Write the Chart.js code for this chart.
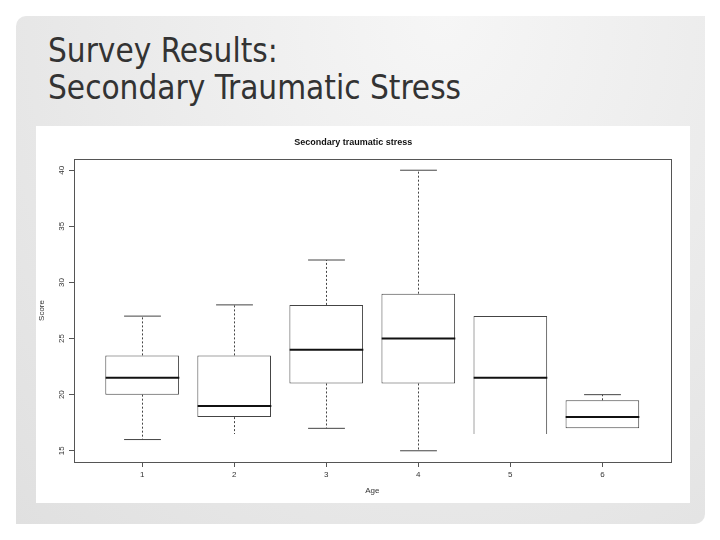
<!DOCTYPE html>
<html>
<head>
<meta charset="utf-8">
<title>Secondary Traumatic Stress</title>
<script src="https://cdn.jsdelivr.net/npm/chart.js@4"></script>
<style>
    html, body {
        margin: 0;
        padding: 0;
        width: 720px;
        height: 540px;
        background: #ffffff;
        overflow: hidden;
    }
    .slide {
        position: absolute;
        left: 16px;
        top: 16px;
        width: 689px;
        height: 508px;
        border-radius: 10px 0 10px 0;
        background: radial-gradient(ellipse at 62% 0%, #f6f6f6 0%, #eaeaea 55%, #e0e0e0 100%);
    }
    h1 {
        position: absolute;
        left: 48px;
        top: 32px;
        margin: 0;
        font-family: "Liberation Sans Narrow", "DejaVu Sans Condensed", sans-serif;
        font-weight: normal;
        font-size: 33px;
        line-height: 37px;
        color: #333333;
    }
    .plot {
        position: absolute;
        left: 36px;
        top: 126px;
        width: 654px;
        height: 377px;
        background: #ffffff;
    }
</style>
</head>
<body>
<div class="slide"></div>
<h1>Survey Results:<br>Secondary Traumatic Stress</h1>
<div class="plot"><canvas id="chart" width="654" height="377"></canvas></div>
<script>
const ageGroups = [1, 2, 3, 4, 5, 6];
const whiskerLow = [16, 16.5, 17, 15, 16.5, 17];
const quartileLow = [20, 18, 21, 21, 16.5, 17];
const medians = [21.5, 19, 24, 25, 21.5, 18];
const quartileHigh = [23.5, 23.5, 28, 29, 27, 19.5];
const whiskerHigh = [27, 28, 32, 40, 27, 20];
const scoreTicks = [15, 20, 25, 30, 35, 40];
// the lower end of boxes 2 and 5 is cut off in the source picture
const cutOff = [false, true, false, false, true, false];

const labelFont = { family: "'Liberation Sans', Arial, sans-serif", size: 8 };

// whiskers, staples, medians and the frame round the plot
const boxWhiskers = {
    id: "boxWhiskers",
    afterDatasetsDraw(chart) {
        const { ctx, chartArea, scales } = chart;
        const x = scales.x;
        const y = scales.y;
        const bars = chart.getDatasetMeta(0).data;

        ctx.save();
        ctx.strokeStyle = "#444";
        ctx.lineWidth = 1;

        ageGroups.forEach(function (age, i) {
            const cx = Math.round(x.getPixelForValue(age)) + 0.5;
            const half = bars[i].width / 2;
            const staple = half / 2;

            const yQ1 = y.getPixelForValue(quartileLow[i]);
            const yQ3 = y.getPixelForValue(quartileHigh[i]);
            const yLo = y.getPixelForValue(whiskerLow[i]);
            const yHi = y.getPixelForValue(whiskerHigh[i]);

            if (whiskerHigh[i] > quartileHigh[i]) {
                ctx.setLineDash([2, 2]);
                ctx.beginPath();
                ctx.moveTo(cx, yQ3);
                ctx.lineTo(cx, yHi);
                ctx.stroke();
                ctx.setLineDash([]);
                ctx.beginPath();
                ctx.moveTo(cx - staple, yHi);
                ctx.lineTo(cx + staple, yHi);
                ctx.stroke();
            }
            if (whiskerLow[i] < quartileLow[i]) {
                ctx.setLineDash([2, 2]);
                ctx.beginPath();
                ctx.moveTo(cx, yQ1);
                ctx.lineTo(cx, yLo);
                ctx.stroke();
                ctx.setLineDash([]);
                if (!cutOff[i]) {
                    ctx.beginPath();
                    ctx.moveTo(cx - staple, yLo);
                    ctx.lineTo(cx + staple, yLo);
                    ctx.stroke();
                }
            }

            const yMed = y.getPixelForValue(medians[i]);
            ctx.save();
            ctx.strokeStyle = "#111";
            ctx.lineWidth = 2;
            ctx.beginPath();
            ctx.moveTo(cx - half, yMed);
            ctx.lineTo(cx + half, yMed);
            ctx.stroke();
            ctx.restore();
        });

        ctx.strokeStyle = "#555";
        ctx.strokeRect(
            Math.round(chartArea.left) + 0.5,
            Math.round(chartArea.top) + 0.5,
            Math.round(chartArea.right - chartArea.left),
            Math.round(chartArea.bottom - chartArea.top)
        );
        ctx.restore();
    },
};

const ctx = document.getElementById("chart").getContext("2d");
new Chart(ctx, {
    type: "bar",
    data: {
        datasets: [
            {
                label: "Score",
                data: ageGroups.map(function (age, i) {
                    return { x: age, y: [quartileLow[i], quartileHigh[i]] };
                }),
                backgroundColor: "#ffffff",
                borderColor: "#444",
                borderWidth: 1,
                borderSkipped: function (context) {
                    const i = context.dataIndex;
                    return cutOff[i] && whiskerLow[i] === quartileLow[i] ? "start" : false;
                },
                barPercentage: 1,
                categoryPercentage: 0.8,
            },
        ],
    },
    options: {
        responsive: false,
        animation: false,
        events: [],
        layout: {
            padding: { left: 0, right: 19.5, top: 0, bottom: 0 },
        },
        scales: {
            x: {
                type: "linear",
                min: 0.26,
                max: 6.74,
                offset: false,
                afterBuildTicks: function (scale) {
                    scale.ticks = ageGroups.map(function (v) {
                        return { value: v };
                    });
                },
                afterFit: function (scale) {
                    scale.height = 41;
                },
                grid: {
                    display: true,
                    offset: false,
                    drawOnChartArea: false,
                    drawTicks: true,
                    tickLength: 5,
                    color: "#555",
                },
                border: { display: false },
                ticks: {
                    font: labelFont,
                    color: "#333",
                    padding: 3,
                    maxRotation: 0,
                    autoSkip: false,
                },
                title: {
                    display: true,
                    text: "Age",
                    font: labelFont,
                    color: "#333",
                    padding: { top: 0, bottom: 7.5 },
                },
            },
            y: {
                type: "linear",
                min: 14,
                max: 41,
                afterBuildTicks: function (scale) {
                    scale.ticks = scoreTicks.map(function (v) {
                        return { value: v };
                    });
                },
                afterFit: function (scale) {
                    scale.width = 38;
                },
                grid: {
                    display: true,
                    drawOnChartArea: false,
                    drawTicks: true,
                    tickLength: 5,
                    color: "#555",
                },
                border: { display: false },
                ticks: {
                    font: labelFont,
                    color: "#333",
                    padding: 3,
                    minRotation: 90,
                    maxRotation: 90,
                    crossAlign: "center",
                },
                title: {
                    display: true,
                    text: "Score",
                    font: labelFont,
                    color: "#333",
                    padding: { top: 1.2, bottom: 0 },
                },
            },
        },
        plugins: {
            legend: { display: false },
            tooltip: { enabled: false },
            title: {
                display: true,
                text: "Secondary traumatic stress",
                font: { family: "'Liberation Sans', Arial, sans-serif", size: 9, weight: "bold", lineHeight: 1 },
                color: "#111",
                padding: { top: 12.5, bottom: 11.5 },
            },
        },
    },
    plugins: [boxWhiskers],
});
</script>
</body>
</html>
